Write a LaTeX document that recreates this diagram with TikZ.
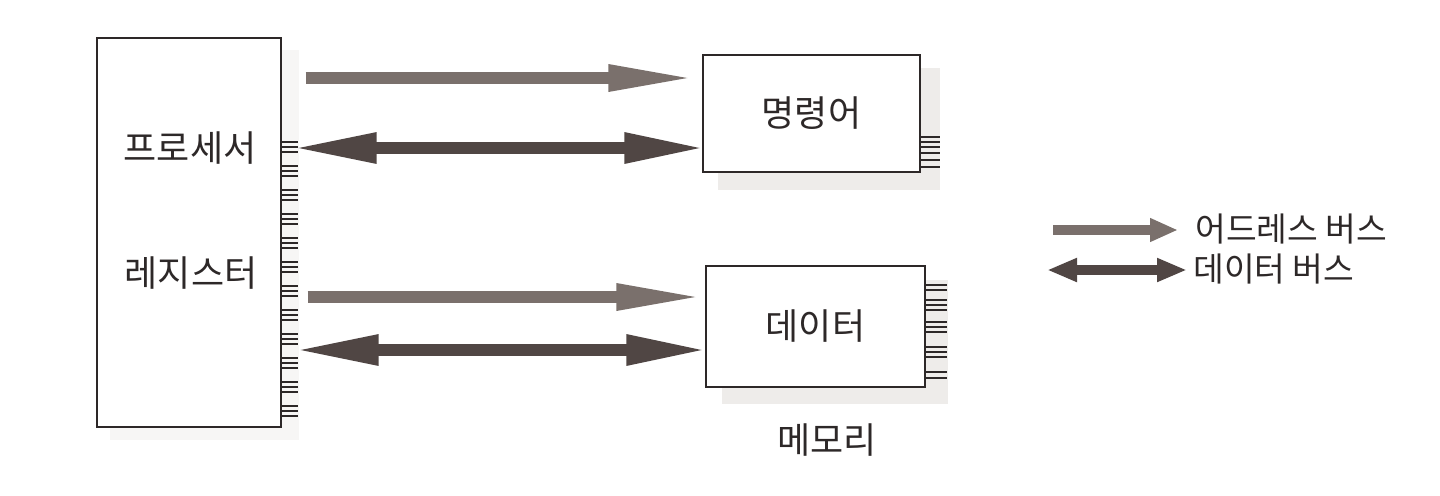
\documentclass[tikz,border=0pt]{standalone}
\usepackage{fontspec}
\newfontfamily\kr{Noto Sans CJK KR}
\usetikzlibrary{arrows.meta}
\definecolor{ink}{RGB}{45,40,40}
\definecolor{addrc}{RGB}{122,112,108}
\definecolor{datac}{RGB}{80,70,68}
\definecolor{shadec}{RGB}{238,236,234}
\begin{document}
\begin{tikzpicture}[x=0.02cm,y=-0.02cm,
 box/.style={draw=ink, line width=0.8pt, fill=white, inner sep=0},
 lbl/.style={font=\kr\fontsize{20.5}{24}\selectfont, text=ink, inner sep=0},
 leg/.style={font=\kr\fontsize{19}{23}\selectfont, text=ink, inner sep=0, anchor=west},
 pin/.style={draw=ink, line width=0.6pt},
 addrbus/.style={draw=addrc, line width=0.24cm, -{Triangle[length=1.8cm 0 0, width=0.48cm 0 0]}},
 databus/.style={draw=datac, line width=0.24cm, {Triangle[length=1.7cm 0 0, width=0.56cm 0 0]}-{Triangle[length=1.64cm 0 0, width=0.56cm 0 0]}},
 addrleg/.style={draw=addrc, line width=0.2cm, -{Triangle[length=0.56cm 0 0, width=0.44cm 0 0]}},
 dataleg/.style={draw=datac, line width=0.2cm, {Triangle[length=0.6cm 0 0, width=0.44cm 0 0]}-{Triangle[length=0.6cm 0 0, width=0.44cm 0 0]}},
]
\useasboundingbox (0,0) rectangle (1440,495);
% faint shadows
\fill[shadec!50] (110,50) rectangle (299,440);
\fill[shadec] (718,68) rectangle (940,190);
\fill[shadec] (722,280) rectangle (948,404);

% boxes
\node[box, minimum width=3.68cm, minimum height=7.78cm] (proc) at (189,232.5) {};
\node[lbl] (t1) at (190,148) {프로세서};
\node[lbl] (t2) at (191,273) {레지스터};
\node[box, lbl, minimum width=4.34cm, minimum height=2.34cm] (instr) at (811.5,113.5) {명령어};
\node[box, lbl, minimum width=4.38cm, minimum height=2.42cm] (data) at (815.5,326.5) {데이터};
\node[lbl] (mem) at (827,440) {메모리};

% pins
\foreach \g in {0,...,11} \foreach \d in {0,5,10}
  \draw[pin] (281,{142+24*\g+\d}) -- ++(17,0);
\foreach \y in {137,142,147,153,160,167}
  \draw[pin] (920,\y) -- ++(20,0);
\foreach \y in {285,290,300,305,310,322,327,332,347,352,357,372,378}
  \draw[pin] (925,\y) -- ++(22,0);

% buses
\draw[addrbus, shorten <=0.48cm, shorten >=0.08cm] (proc.east |- 0,78) -- (instr.west |- 0,78);
\draw[databus, shorten <=0.2cm, shorten >=-0.08cm] (proc.east |- 0,148) -- (instr.west |- 0,148);
\draw[addrbus, shorten <=0.52cm, shorten >=-0.02cm] (proc.east |- 0,297) -- (data.west |- 0,297);
\draw[databus, shorten <=0.24cm, shorten >=-0.06cm] (proc.east |- 0,350) -- (data.west |- 0,350);

% legend
\coordinate (la1) at (1053,230); \coordinate (la2) at (1178,230);
\coordinate (ld1) at (1047,270); \coordinate (ld2) at (1187,270);
\draw[addrleg] (la1) -- (la2);
\draw[dataleg] (ld1) -- (ld2);
\node[leg] (lt1) at (1195,229) {어드레스 버스};
\node[leg] (lt2) at (1193,269) {데이터 버스};
\end{tikzpicture}
\end{document}
